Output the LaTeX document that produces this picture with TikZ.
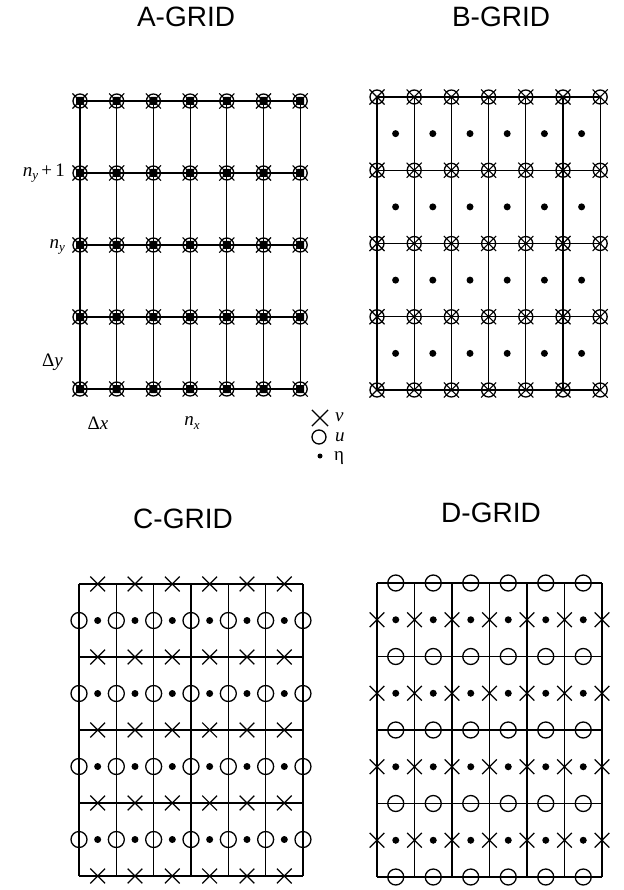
\documentclass[tikz,border=0pt]{standalone}
\usepackage{fontspec}
\newfontfamily\titlefont{Liberation Sans}
\newfontfamily\labfont{Liberation Serif}
\usetikzlibrary{shapes.misc}
\newcommand{\subl}[1]{\raisebox{-0.35ex}{\fontsize{13}{14}\selectfont\itshape #1}}
\tikzset{
  gridline/.style={line width=1.2pt},
  ucirc/.style={circle, draw, line width=1.3pt, minimum size=16pt, inner sep=0pt},
  vcross/.style={cross out, draw, line width=1.2pt, minimum size=13.5pt, inner sep=0pt},
  ucircs/.style={circle, draw, line width=1.3pt, minimum size=14pt, inner sep=0pt},
  vcrosss/.style={cross out, draw, line width=1.1pt, minimum size=14pt, inner sep=0pt},
  etadot/.style={circle, fill, minimum size=7pt, inner sep=0pt},
  bigdot/.style={rectangle, rounded corners=1.5pt, fill, minimum size=8pt, inner sep=0pt},
  smalldot/.style={circle, fill, minimum size=3pt, inner sep=0pt},
  gridtitle/.style={font=\titlefont\fontsize{28}{32}\selectfont},
  lab/.style={font=\labfont\fontsize{19}{22}\selectfont, inner sep=1pt},
}
\begin{document}
\begin{tikzpicture}[x=1pt,y=-1pt]
\useasboundingbox (0,0) rectangle (623,890);
\fill[white] (0,0) rectangle (623,890);

% titles
\node[gridtitle] (tA) at (186,17) {A-GRID};
\node[gridtitle] (tB) at (501,17) {B-GRID};
\node[gridtitle] (tC) at (183,519) {C-GRID};
\node[gridtitle] (tD) at (491,513) {D-GRID};

% ---------------- A-grid ----------------
\foreach \i in {0,...,6}{\foreach \j in {0,...,4}{
  \coordinate (A-\i-\j) at ({80+36.7*\i},{101+72*\j});}}
\foreach \j in {0,...,4} \draw[gridline] (A-0-\j) -- (A-6-\j);
\foreach \i in {0,...,6} \draw[gridline] (A-\i-0) -- (A-\i-4);
\foreach \i in {0,...,6}{\foreach \j in {0,...,4}{
  \node[ucircs] (Au-\i-\j) at (A-\i-\j) {};
  \node[vcrosss] (Av-\i-\j) at (A-\i-\j) {};
  \node[bigdot] (Ae-\i-\j) at (A-\i-\j) {};}}

\node[lab, anchor=east] (lny1) at (66,173) {\textit{n}\subl{y}\,+\,1};
\node[lab, anchor=east] (lny) at (66,247) {\textit{n}\subl{y}};
\node[lab, anchor=east] (ldy) at (64,362) {Δ\textit{y}};
\node[lab] (ldx) at (98,423) {Δ\textit{x}};
\node[lab] (lnx) at (192,423) {\textit{n}\subl{x}};

% legend
\node[vcross, minimum size=15pt] (legv) at (320,418) {};
\node[lab, anchor=west] (legvt) at (334,417) {\textit{v}};
\node[ucirc, minimum size=14pt] (legu) at (319,437) {};
\node[lab, anchor=west] (legut) at (334,437) {\textit{u}};
\node[etadot, minimum size=5pt] (lege) at (320,456) {};
\node[lab, anchor=west] (leget) at (333,458) {η};

% ---------------- B-grid ----------------
\foreach \i in {0,...,6}{\foreach \j in {0,...,4}{
  \coordinate (B-\i-\j) at ({377+37.2*\i},{97+73.25*\j});}}
\foreach \j in {0,...,4} \draw[gridline] (B-0-\j) -- (B-6-\j);
\foreach \i in {0,...,6} \draw[gridline] (B-\i-0) -- (B-\i-4);
\foreach \i in {0,...,6}{\foreach \j in {0,...,4}{
  \node[ucircs] (Bu-\i-\j) at (B-\i-\j) {};
  \node[vcrosss] (Bv-\i-\j) at (B-\i-\j) {};
  \node[smalldot] (Bc-\i-\j) at (B-\i-\j) {};}}
\foreach \i in {0,...,5}{\foreach \j in {0,...,3}{
  \node[etadot] (Be-\i-\j) at ({377+37.2*(\i+0.5)},{97+73.25*(\j+0.5)}) {};}}

% ---------------- C-grid ----------------
\foreach \i in {0,...,6}{\foreach \j in {0,...,4}{
  \coordinate (C-\i-\j) at ({79+37.33*\i},{584+73*\j});}}
\foreach \j in {0,...,4} \draw[gridline] (C-0-\j) -- (C-6-\j);
\foreach \i in {0,...,6} \draw[gridline] (C-\i-0) -- (C-\i-4);
\foreach \i in {0,...,5}{\foreach \j in {0,...,4}{
  \node[vcross] (Cv-\i-\j) at ({79+37.33*(\i+0.5)},{584+73*\j}) {};}}
\foreach \i in {0,...,6}{\foreach \j in {0,...,3}{
  \node[ucirc] (Cu-\i-\j) at ({79+37.33*\i},{584+73*(\j+0.5)}) {};}}
\foreach \i in {0,...,5}{\foreach \j in {0,...,3}{
  \node[etadot] (Ce-\i-\j) at ({79+37.33*(\i+0.5)},{584+73*(\j+0.5)}) {};}}

% ---------------- D-grid ----------------
\foreach \i in {0,...,6}{\foreach \j in {0,...,4}{
  \coordinate (D-\i-\j) at ({377+37.5*\i},{583+73.5*\j});}}
\foreach \j in {0,...,4} \draw[gridline] (D-0-\j) -- (D-6-\j);
\foreach \i in {0,...,6} \draw[gridline] (D-\i-0) -- (D-\i-4);
\foreach \i in {0,...,5}{\foreach \j in {0,...,4}{
  \node[ucirc] (Du-\i-\j) at ({377+37.5*(\i+0.5)},{583+73.5*\j}) {};}}
\foreach \i in {0,...,6}{\foreach \j in {0,...,3}{
  \node[vcross] (Dv-\i-\j) at ({377+37.5*\i},{583+73.5*(\j+0.5)}) {};}}
\foreach \i in {0,...,5}{\foreach \j in {0,...,3}{
  \node[etadot] (De-\i-\j) at ({377+37.5*(\i+0.5)},{583+73.5*(\j+0.5)}) {};}}
\end{tikzpicture}
\end{document}
